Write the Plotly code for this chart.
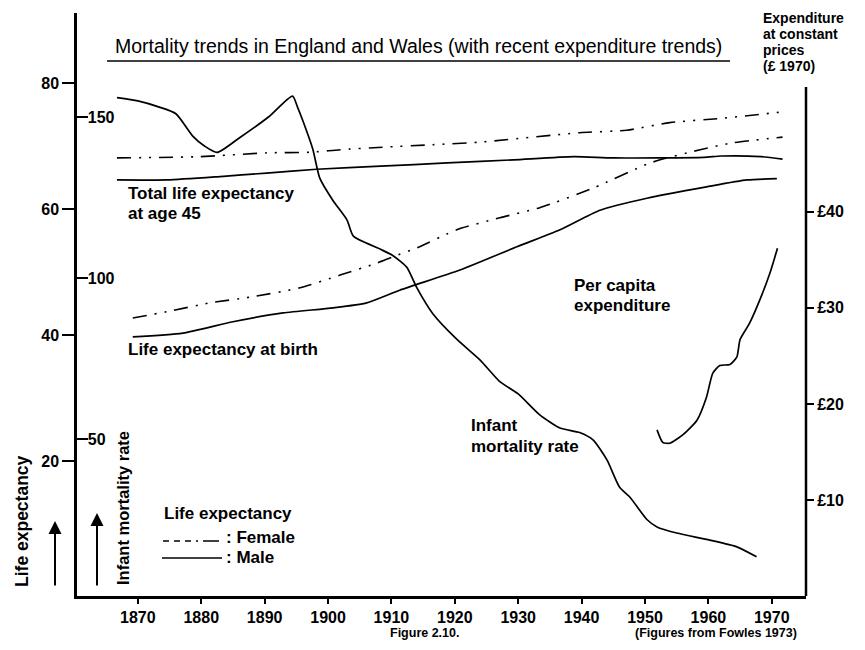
import plotly.graph_objects as go

# values
# life expectancy at 45 (total) - female / male
f45_years = [1866.7, 1879.8, 1890.3, 1897.1, 1901.9, 1908.6, 1916.5, 1923.9, 1939.7, 1947.1, 1953.9, 1962.3, 1971.7]
f45_vals = [68.1, 68.3, 68.9, 69.0, 69.4, 69.8, 70.2, 70.6, 72.1, 72.5, 73.7, 74.4, 75.4]
m45_years = [1866.7, 1874.6, 1882.5, 1890.3, 1898.2, 1908.3, 1918.8, 1929.3, 1938.8, 1945.0, 1959.3, 1962.0, 1968.3, 1971.7]
m45_vals = [64.6, 64.6, 65.1, 65.7, 66.3, 66.8, 67.3, 67.8, 68.3, 68.1, 68.2, 68.4, 68.3, 67.9]

# life expectancy at birth - female / male
fbirth_years = [1869.2, 1874.6, 1881.4, 1887.7, 1895.6, 1901.9, 1907.7, 1910.2, 1914.0, 1920.3, 1927.1, 1933.4, 1941.8, 1950.8, 1958.7, 1963.9, 1971.7]
fbirth_vals = [42.7, 43.7, 45.1, 46.0, 47.5, 49.5, 51.4, 52.4, 53.8, 56.7, 58.6, 60.2, 63.3, 67.3, 69.4, 70.5, 71.4]
mbirth_years = [1869.2, 1877.1, 1885.0, 1892.9, 1900.8, 1906.1, 1911.3, 1920.8, 1929.8, 1936.6, 1942.9, 1950.3, 1959.7, 1966.1, 1970.8]
mbirth_vals = [39.7, 40.3, 42.1, 43.5, 44.3, 45.1, 47.1, 50.3, 54.0, 56.7, 59.8, 61.7, 63.5, 64.6, 64.8]

# infant mortality rate
imr_years = [1866.7, 1870.0, 1873.5, 1876.0, 1878.7, 1880.5, 1882.5, 1886.0, 1890.6, 1894.4, 1895.2, 1896.0,
             1897.6, 1898.7, 1900.8, 1903.0, 1904.0, 1908.2, 1910.2, 1912.4, 1914.0, 1916.5, 1920.3, 1924.0,
             1927.0, 1930.0, 1933.4, 1936.6, 1939.7, 1941.8, 1944.0, 1946.0, 1947.6, 1950.3, 1951.9, 1955.0,
             1960.2, 1964.5, 1967.6]
imr_vals = [156, 155, 153, 151, 144, 141, 139, 143.5, 150, 156.5, 153, 149,
            140, 131, 124, 118, 113, 109, 107, 103.4, 97, 89, 81, 74.5,
            68, 64, 57.5, 53.4, 52, 49.7, 43.5, 35, 32, 25, 22.7, 20.8,
            18.6, 16.5, 13.4]

# per capita expenditure (GBP, 1970 prices)
exp_years = [1951.9, 1952.8, 1953.9, 1956.0, 1958.2, 1959.7, 1960.7, 1961.8, 1963.4, 1964.5, 1965.0, 1966.5, 1968.1, 1969.7, 1970.9]
exp_vals = [17.3, 16.0, 15.9, 16.8, 18.3, 20.7, 23.2, 24.0, 24.1, 24.9, 26.7, 28.4, 30.8, 33.6, 36.2]

life_ticks = [20, 40, 60, 80]
imr_ticks = [50, 100, 150]
exp_ticks = [10, 20, 30, 40]
exp_labels = ['£10', '£20', '£30', '£40']
year_ticks = [1870, 1880, 1890, 1900, 1910, 1920, 1930, 1940, 1950, 1960, 1970]

# the page body adds an 8px margin on every side; keep the figure inside the window
OFF = 8
W, H = 865 - 2 * OFF, 650 - 2 * OFF
# plot area in window pixels
L, R, T, B = 77, 806, 13, 596

def px(x):
    return (x - L) / (R - L)

def py(y):
    return (B - y) / (B - T)

FONT = 'Liberation Sans, Arial, sans-serif'
dashdot = '14px,8px,2px,8px,2px,8px'

fig = go.Figure()
line_solid = dict(color='black', width=1.7, shape='spline', smoothing=0.6)
line_dd = dict(color='black', width=1.6, dash=dashdot, shape='spline', smoothing=0.6)

fig.add_trace(go.Scatter(x=f45_years, y=f45_vals, mode='lines', line=line_dd, yaxis='y'))
fig.add_trace(go.Scatter(x=m45_years, y=m45_vals, mode='lines', line=line_solid, yaxis='y'))
fig.add_trace(go.Scatter(x=fbirth_years, y=fbirth_vals, mode='lines', line=line_dd, yaxis='y'))
fig.add_trace(go.Scatter(x=mbirth_years, y=mbirth_vals, mode='lines', line=line_solid, yaxis='y'))
fig.add_trace(go.Scatter(x=imr_years, y=imr_vals, mode='lines', line=line_solid, yaxis='y2'))
fig.add_trace(go.Scatter(x=exp_years, y=exp_vals, mode='lines', line=line_solid, yaxis='y3'))

tickfont = dict(size=16, color='black', family=FONT, weight='bold')
fig.update_layout(
    width=W, height=H,
    margin=dict(l=L - OFF, r=W + OFF - R, t=T - OFF, b=H + OFF - B),
    paper_bgcolor='white', plot_bgcolor='white',
    showlegend=False,
    font=dict(family=FONT, size=16, color='black'),
    xaxis=dict(range=[1860.4, 1975.4], tickvals=year_ticks, ticks='outside', ticklen=5,
               tickwidth=2, tickcolor='black', showline=True, linecolor='black', linewidth=2.5,
               showgrid=False, zeroline=False, tickfont=tickfont),
    yaxis=dict(range=[-1.43, 91.1], tickvals=life_ticks, ticks='outside', ticklen=12,
               tickwidth=2, tickcolor='black', showline=True, linecolor='black', linewidth=2.5,
               showgrid=False, zeroline=False, tickfont=tickfont),
    yaxis2=dict(range=[1.24, 182.3], tickvals=imr_ticks, overlaying='y', side='left',
                anchor='x', ticks='inside', ticklen=11, tickwidth=2, tickcolor='black',
                ticklabelposition='inside', showline=False, showgrid=False, zeroline=False,
                tickfont=tickfont),
    yaxis3=dict(range=[0, 60.7], tickvals=exp_ticks, ticktext=exp_labels, overlaying='y',
                side='right', anchor='x', ticks='outside', ticklen=7, tickwidth=2,
                tickcolor='black', showline=False, showgrid=False, zeroline=False,
                tickfont=tickfont),
)

# right axis line starts lower than the plot top
fig.add_shape(type='line', xref='paper', yref='paper', x0=1, x1=1, y0=0, y1=py(87),
              line=dict(color='black', width=2.5))
# title underline
fig.add_shape(type='line', xref='paper', yref='paper', x0=px(107), x1=px(730), y0=py(61), y1=py(61),
              line=dict(color='black', width=1.5))
# legend samples
fig.add_shape(type='line', xref='paper', yref='paper', x0=px(163), x1=px(222), y0=py(541), y1=py(541),
              line=dict(color='black', width=1.6, dash='6px,5px,6px,5px,6px,5px,2px,5px,16px'))
fig.add_shape(type='line', xref='paper', yref='paper', x0=px(162), x1=px(222), y0=py(558), y1=py(558),
              line=dict(color='black', width=1.7))

def text(x, y, s, size=17, bold=True, anchor='left', angle=0, pad=1):
    fig.add_annotation(x=px(x), y=py(y), xref='paper', yref='paper', text=s, showarrow=False,
                       xanchor=anchor, yanchor='middle', textangle=angle, align='left',
                       borderpad=pad,
                       font=dict(size=size, family=FONT, color='black',
                                 weight='bold' if bold else 'normal'))

text(418, 46, 'Mortality trends in England and Wales (with recent expenditure trends)',
     size=19.5, bold=False, anchor='center')
text(126, 193, 'Total life expectancy')
text(126, 213, 'at age 45')
text(126, 349, 'Life expectancy at birth')
text(572, 286, 'Per capita')
text(572, 305, 'expenditure')
text(469, 425, 'Infant')
text(469, 446, 'mortality rate')
text(162, 513, 'Life expectancy')
text(224, 537, ': Female')
text(224, 557, ': Male')
text(762, 18, 'Expenditure', size=14, pad=0)
text(762, 34, 'at constant', size=14, pad=0)
text(762, 50, 'prices', size=14, pad=0)
text(762, 66, '(£ 1970)', size=14, pad=0)
text(424, 633, 'Figure 2.10.', size=12.5, anchor='center', pad=0)
text(716, 633, '(Figures from Fowles 1973)', size=12.5, anchor='center', pad=0)
text(22, 521, 'Life expectancy', size=17.5, anchor='center', angle=-90)
text(123, 508, 'Infant mortality rate', size=16.5, anchor='center', angle=-90)

# upward arrows beside the rotated labels
for ax_x, head_y in [(55, 521), (97, 513)]:
    fig.add_annotation(x=px(ax_x), y=py(head_y), xref='paper', yref='paper', text='',
                       showarrow=True, arrowhead=2, arrowsize=1.3, arrowwidth=2,
                       arrowcolor='black', ax=0, ay=587 - head_y, axref='pixel', ayref='pixel')

fig.write_html('out.html')
